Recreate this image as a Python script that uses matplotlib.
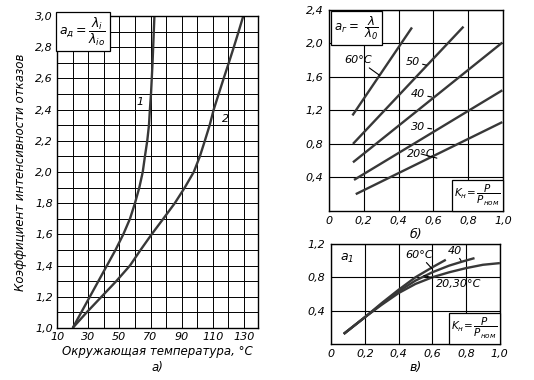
import matplotlib
matplotlib.use('Agg')
import matplotlib.pyplot as plt
import numpy as np

plt.rcParams['font.family'] = ['Liberation Sans Narrow', 'DejaVu Sans']
plt.rcParams['font.style'] = 'italic'
plt.rcParams['mathtext.fontset'] = 'dejavusans'
plt.rcParams['mathtext.it'] = 'DejaVu Sans:italic'

# panel a: failure rate coefficient vs ambient temperature
temp_1 = [20, 25.5, 31, 36.5, 42, 47.5, 52.5, 56.8, 60, 62.8, 65, 66.4, 67.9, 69,
          69.6, 70.3, 70.8, 71.3, 71.7, 72.1, 72.5]
coef_1 = [1.0, 1.1, 1.2, 1.3, 1.4, 1.5, 1.6, 1.7, 1.8, 1.9, 2.0, 2.1, 2.2, 2.3,
          2.4, 2.5, 2.6, 2.7, 2.8, 2.9, 3.0]
temp_2 = [20, 29, 38.5, 48, 56.8, 63.6, 70.7, 78.2, 85.6, 92, 97.8, 101.7, 104.9,
          108, 110.6, 113.8, 117, 120.3, 123.5, 126.6, 129.6]
coef_2 = [1.0, 1.1, 1.2, 1.3, 1.4, 1.5, 1.6, 1.7, 1.8, 1.9, 2.0, 2.1, 2.2,
          2.3, 2.4, 2.5, 2.6, 2.7, 2.8, 2.9, 3.0]
a_xticks = [10, 30, 50, 70, 90, 110, 130]
a_yticks = [1.0, 1.2, 1.4, 1.6, 1.8, 2.0, 2.2, 2.4, 2.6, 2.8, 3.0]

# panel b: straight lines for each temperature
b_lines = {
    '60': ([0.135, 0.477], [1.14, 2.19]),
    '50': ([0.138, 0.773], [0.80, 2.20]),
    '40': ([0.138, 0.996], [0.58, 2.01]),
    '30': ([0.144, 0.996], [0.37, 1.44]),
    '20': ([0.154, 0.996], [0.20, 1.06]),
}
b_xticks = [0, 0.2, 0.4, 0.6, 0.8, 1.0]
b_yticks = [0.4, 0.8, 1.2, 1.6, 2.0, 2.4]

# panel c: curves
c_lines = {
    '60': ([0.075, 0.15, 0.2, 0.3, 0.4, 0.5, 0.6, 0.68],
           [0.12, 0.24, 0.32, 0.49, 0.65, 0.80, 0.92, 1.01]),
    '40': ([0.075, 0.15, 0.2, 0.3, 0.4, 0.5, 0.6, 0.7, 0.78, 0.85],
           [0.12, 0.24, 0.32, 0.48, 0.63, 0.76, 0.86, 0.94, 0.99, 1.03]),
    '20,30': ([0.075, 0.15, 0.2, 0.3, 0.4, 0.5, 0.6, 0.7, 0.8, 0.9, 1.0],
              [0.12, 0.24, 0.32, 0.47, 0.61, 0.72, 0.80, 0.86, 0.91, 0.95, 0.97]),
}
c_xticks = [0, 0.2, 0.4, 0.6, 0.8, 1.0]
c_yticks = [0.4, 0.8, 1.2]


def comma(v, fmt='%.1f'):
    return (fmt % v).replace('.', ',')


line_kw = dict(color='#383838', lw=1.7, solid_capstyle='butt', solid_joinstyle='round')
box = dict(boxstyle='square,pad=0.25', fc='white', ec='black', lw=0.9)
leader = dict(arrowstyle='-', lw=0.8, color='black', shrinkA=0, shrinkB=0)

fig = plt.figure(figsize=(5.34, 3.8), dpi=100)

# ---------- а) ----------
ax = fig.add_axes([0.107, 0.137, 0.376, 0.821])
ax.set_xlim(10, 139)
ax.set_ylim(1.0, 3.0)
ax.set_xticks(np.arange(20, 138, 10), minor=True)
ax.set_yticks(np.arange(1.1, 3.0, 0.1), minor=True)
ax.set_xticks(a_xticks)
ax.set_xticklabels([str(t) for t in a_xticks])
ax.set_yticks(a_yticks)
ax.set_yticklabels([comma(v) for v in a_yticks])
ax.grid(True, which='both', color='black', lw=0.7)
ax.tick_params(which='both', length=0, labelsize=8, pad=3)
ax.plot(temp_1, coef_1, **line_kw)
ax.plot(temp_2, coef_2, **line_kw)
ax.text(63.5, 2.45, '1', fontsize=8, ha='center', va='center')
ax.text(118, 2.34, '2', fontsize=8, ha='center', va='center')
ax.text(11.5, 2.9, r'$a_{д}=\dfrac{\lambda_{i}}{\lambda_{io}}$', fontsize=9,
        ha='left', va='center', bbox=box, zorder=5)
ax.set_xlabel('Окружающая температура, °C\nа)', fontsize=8.5, labelpad=2,
              linespacing=1.3)
ax.set_ylabel('Коэффициент интенсивности отказов', fontsize=8.5, labelpad=6)
for s in ax.spines.values():
    s.set_linewidth(1.0)

# ---------- б) ----------
bx = fig.add_axes([0.616, 0.445, 0.326, 0.529])
bx.set_xlim(0, 1.0)
bx.set_ylim(0, 2.4)
bx.set_xticks(b_xticks)
bx.set_xticklabels(['0'] + [comma(v) for v in b_xticks[1:]])
bx.set_yticks(b_yticks)
bx.set_yticklabels([comma(v) for v in b_yticks])
bx.grid(True, color='black', lw=0.8)
bx.tick_params(length=0, labelsize=8, pad=4)
for name, (xs, ys) in b_lines.items():
    bx.plot(xs, ys, **line_kw)
bx.text(0.03, 2.18, r'$a_{г}=\ \dfrac{\lambda}{\lambda_0}$', fontsize=8.5,
        ha='left', va='center', bbox=box, zorder=5)
b_labels = [('60°C', 0.09, 1.80, 0.29, 1.62),
            ('50', 0.44, 1.78, 0.56, 1.74),
            ('40', 0.47, 1.39, 0.59, 1.36),
            ('30', 0.47, 1.00, 0.59, 0.98),
            ('20°C', 0.45, 0.68, 0.62, 0.63)]
for txt, tx, ty, lx, ly in b_labels:
    bx.annotate(txt, xy=(lx, ly), xytext=(tx, ty), fontsize=8, ha='left',
                va='center', arrowprops=leader)
bx.text(0.985, 0.035, r'$K_н\!=\dfrac{P}{P_{ном}}$', fontsize=7.5,
        ha='right', va='bottom', bbox=box, zorder=5)
bx.set_xlabel('б)', fontsize=9, labelpad=1)
for s in bx.spines.values():
    s.set_linewidth(1.0)

# ---------- в) ----------
cx = fig.add_axes([0.620, 0.095, 0.316, 0.263])
cx.set_xlim(0, 1.0)
cx.set_ylim(0, 1.2)
cx.set_xticks(c_xticks)
cx.set_xticklabels(['0'] + [comma(v) for v in c_xticks[1:]])
cx.set_yticks(c_yticks)
cx.set_yticklabels([comma(v) for v in c_yticks])
cx.grid(True, color='black', lw=0.8)
cx.tick_params(length=0, labelsize=8, pad=4)
for name, (xs, ys) in c_lines.items():
    cx.plot(xs, ys, **line_kw)
cx.text(0.05, 1.03, r'$a_1$', fontsize=9, ha='left', va='center')
cx.annotate('60°C', xy=(0.60, 0.90), xytext=(0.44, 1.07), fontsize=8,
            ha='left', va='center', arrowprops=leader)
cx.annotate('40', xy=(0.77, 1.0), xytext=(0.69, 1.12), fontsize=8,
            ha='left', va='center', arrowprops=leader)
cx.annotate('20,30°C', xy=(0.55, 0.82), xytext=(0.62, 0.72), fontsize=8,
            ha='left', va='center', arrowprops=leader)
cx.text(0.985, 0.035, r'$K_н\!=\dfrac{P}{P_{ном}}$', fontsize=7.5,
        ha='right', va='bottom', bbox=box, zorder=5)
cx.set_xlabel('в)', fontsize=9, labelpad=1)
for s in cx.spines.values():
    s.set_linewidth(1.0)

fig.savefig('out.png', dpi=100, facecolor='white')
